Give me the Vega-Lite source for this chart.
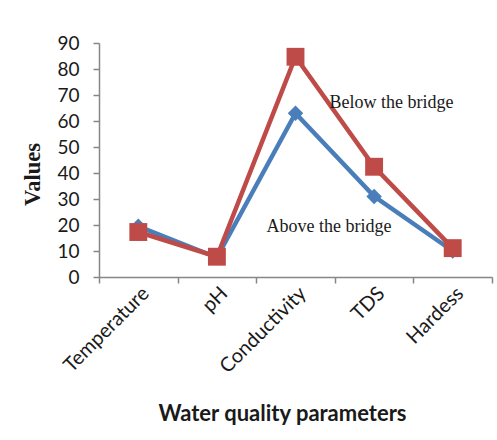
{
  "$schema": "https://vega.github.io/schema/vega-lite/v6.json",
  "autosize": {"type": "none"},
  "width": 393,
  "height": 234,
  "padding": {"left": 99, "top": 43, "right": 5, "bottom": 163},
  "background": "white",
  "config": {"view": {"stroke": null}},
  "datasets": {
    "readings": [
      {"parameter": "Temperature", "site": "Above the bridge", "value": 19.5},
      {"parameter": "pH", "site": "Above the bridge", "value": 7.5},
      {"parameter": "Conductivity", "site": "Above the bridge", "value": 63},
      {"parameter": "TDS", "site": "Above the bridge", "value": 31},
      {"parameter": "Hardess", "site": "Above the bridge", "value": 10},
      {"parameter": "Temperature", "site": "Below the bridge", "value": 17.3},
      {"parameter": "pH", "site": "Below the bridge", "value": 7.8},
      {"parameter": "Conductivity", "site": "Below the bridge", "value": 84.7},
      {"parameter": "TDS", "site": "Below the bridge", "value": 42.4},
      {"parameter": "Hardess", "site": "Below the bridge", "value": 11.1}
    ],
    "below": [
      {"parameter": "Conductivity", "value": 66.9, "label": "Below the bridge"}
    ],
    "above": [
      {"parameter": "Conductivity", "value": 19.3, "label": "Above the bridge"}
    ]
  },
  "encoding": {
    "x": {
      "field": "parameter",
      "type": "nominal",
      "sort": ["Temperature", "pH", "Conductivity", "TDS", "Hardess"],
      "scale": {"paddingInner": 0, "paddingOuter": 0},
      "axis": {
        "title": "Water quality parameters",
        "titleFont": "Lato",
        "titleFontSize": 22,
        "titleFontWeight": "bold",
        "titleColor": "#1a1a1a",
        "titlePadding": 27,
        "titleX": 183,
        "labelFont": "Lato",
        "labelFontSize": 20,
        "labelColor": "#1a1a1a",
        "labelAngle": -45,
        "labelPadding": 0,
        "tickBand": "extent",
        "tickSize": 6,
        "tickColor": "#868686",
        "domainColor": "#868686",
        "tickWidth": 1.5,
        "domainWidth": 1.5,
        "grid": false
      }
    },
    "y": {
      "field": "value",
      "type": "quantitative",
      "scale": {"domain": [0, 90]},
      "axis": {
        "title": "Values",
        "titleFont": "Liberation Serif",
        "titleFontSize": 22.5,
        "titleFontWeight": "bold",
        "titleColor": "#1a1a1a",
        "titleY": 131,
        "titlePadding": 12,
        "labelFont": "Lato",
        "labelFontSize": 19,
        "labelColor": "#1a1a1a",
        "labelPadding": 14,
        "values": [0, 10, 20, 30, 40, 50, 60, 70, 80, 90],
        "tickSize": 6,
        "tickColor": "#868686",
        "domainColor": "#868686",
        "tickWidth": 1.5,
        "domainWidth": 1.5,
        "grid": false
      }
    }
  },
  "layer": [
    {
      "data": {"name": "readings"},
      "mark": {"type": "line", "strokeWidth": 4.5},
      "encoding": {
        "color": {
          "field": "site",
          "type": "nominal",
          "scale": {"domain": ["Above the bridge", "Below the bridge"], "range": ["#4a7ebb", "#be4b48"]},
          "legend": null
        }
      }
    },
    {
      "data": {"name": "readings"},
      "mark": {"type": "point", "filled": true, "opacity": 1},
      "encoding": {
        "color": {
          "field": "site",
          "type": "nominal",
          "scale": {"domain": ["Above the bridge", "Below the bridge"], "range": ["#4a7ebb", "#be4b48"]},
          "legend": null
        },
        "shape": {
          "field": "site",
          "type": "nominal",
          "scale": {"domain": ["Above the bridge", "Below the bridge"], "range": ["diamond", "square"]},
          "legend": null
        },
        "size": {
          "field": "site",
          "type": "nominal",
          "scale": {"domain": ["Above the bridge", "Below the bridge"], "range": [240, 320]},
          "legend": null
        }
      }
    },
    {
      "data": {"name": "below"},
      "mark": {"type": "text", "font": "Liberation Serif", "fontSize": 18, "align": "left", "baseline": "middle", "color": "#1a1a1a", "dx": 34},
      "encoding": {"text": {"field": "label"}}
    },
    {
      "data": {"name": "above"},
      "mark": {"type": "text", "font": "Liberation Serif", "fontSize": 18, "align": "left", "baseline": "middle", "color": "#1a1a1a", "dx": -29},
      "encoding": {"text": {"field": "label"}}
    }
  ]
}
